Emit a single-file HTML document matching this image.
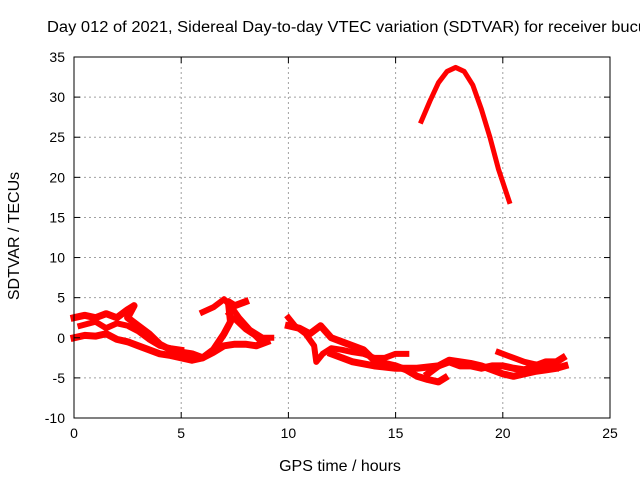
<!DOCTYPE html>
<html><head><meta charset="utf-8"><style>
body{margin:0;background:#fff;}
svg{display:block;font-family:"Liberation Sans",sans-serif;}
</style></head><body>
<svg id="chart" width="640" height="480" viewBox="0 0 640 480">
<text x="47" y="32" font-size="15.5" textLength="600" lengthAdjust="spacingAndGlyphs" fill="#000">Day 012 of 2021, Sidereal Day-to-day VTEC variation (SDTVAR) for receiver bucu</text>
<text transform="translate(19,236) rotate(-90)" text-anchor="middle" font-size="16">SDTVAR / TECUs</text>
<text x="340" y="471" text-anchor="middle" font-size="16">GPS time / hours</text>
<g id="grid"></g><g id="series"></g><g id="axes"></g>
</svg>
<script>
const xTicks=[0,5,10,15,20,25];
const yTicks=[-10,-5,0,5,10,15,20,25,30,35];
const arcSeries=[[16.2,27],[16.6,29.5],[17.0,31.8],[17.4,33.2],[17.8,33.7],[18.2,33.2],[18.6,31.5],[19.0,28.5],[19.4,25],[19.8,21],[20.3,17]];
const traceB1=[[0,2.5],[0.5,2.8],[1,2.5],[1.5,3],[2,2.5],[2.5,3.5],[2.8,4],[2.5,2.5],[3,1.5],[3.5,0.5],[4,-0.8],[4.5,-1.5],[5,-1.8],[5.5,-2],[6,-2.5],[6.5,-1.5],[7,0.5],[7.3,2],[7.2,4.5],[7.5,4],[8,4.5]];
const traceB2=[[0,0],[0.5,0.3],[1,0.2],[1.5,0.5],[2,-0.2],[2.5,-0.5],[3,-1],[3.5,-1.5],[4,-2],[4.5,-2.2],[5,-2.5],[5.5,-2.8],[6,-2.5],[6.5,-1.8],[7,-1],[7.5,-0.8],[8,-0.8],[8.5,-1],[9,-0.5]];
const traceB3=[[0.3,1.5],[1,2],[1.5,1.2],[2,1.8],[2.5,1.5],[3,0.8],[3.5,-0.2],[4,-1],[4.5,-1.3],[5,-1.5]];
const traceB4=[[6,3.2],[6.5,3.8],[7,4.8],[7.3,4],[7.7,2.5],[8.2,1],[8.8,0],[9.2,0]];
const traceB5=[[7.2,3],[7.6,2],[8,1],[8.4,0.3],[8.7,-0.5]];
const traceC1=[[10,2.5],[10.3,1.5],[10.8,0.5],[11.2,-1],[11.3,-3],[11.6,-2],[12,-1.3],[12.5,-1.5],[13,-1.8],[13.5,-2],[14,-2.5],[14.5,-2.5],[15,-2],[15.5,-2]];
const traceC2=[[10,1.5],[10.5,1.2],[11,0.5],[11.5,1.5],[12,0],[12.5,-0.5],[13,-1],[13.5,-1.5],[14,-2.8],[14.5,-3.2],[15,-3.5],[15.5,-4],[16,-4.8],[16.5,-5.2],[17,-5.5],[17.3,-5]];
const traceC3=[[12,-2],[13,-3],[14,-3.5],[15,-3.8],[16,-3.8],[17,-3.5],[17.5,-2.8],[18,-3],[18.5,-3.2],[19,-3.5],[19.5,-4],[20,-4.5],[20.5,-4.8],[21,-4.5],[21.5,-4.2],[22,-4],[22.5,-3.8],[22.9,-3.5]];
const traceC4=[[16.5,-4.5],[17,-3.5],[17.5,-3],[18,-3.5],[18.5,-3.5],[19,-3.8],[19.5,-3.5],[20,-3.5],[20.5,-3.8],[21,-4],[21.5,-3.5],[22,-3],[22.5,-3],[22.8,-2.5]];
const traceC5=[[19.8,-1.8],[20.5,-2.5],[21,-3],[21.5,-3.3],[22,-3.5],[22.5,-3.8]];

const NS="http://www.w3.org/2000/svg";
const L=74,R=610,T=57,B=418,xmin=0,xmax=25,ymin=-10,ymax=35;
const sx=v=>L+(v-xmin)/(xmax-xmin)*(R-L);
const sy=v=>B-(v-ymin)/(ymax-ymin)*(B-T);
function mk(tag,attrs,parent){const e=document.createElementNS(NS,tag);for(const k in attrs)e.setAttribute(k,attrs[k]);parent.appendChild(e);return e;}
const grid=document.getElementById('grid'),axes=document.getElementById('axes'),ser=document.getElementById('series');
xTicks.forEach(t=>{
  const x=sx(t);
  if(t>xmin&&t<xmax){const g=mk('line',{x1:x,x2:x,y1:T,y2:B,stroke:'#a0a0a0','stroke-dasharray':'2,3'},grid);
  
  }
  const tk=mk('line',{x1:x,x2:x,y1:B,y2:B-6,stroke:'#000'},axes);
  
  
  const tk2=mk('line',{x1:x,x2:x,y1:T,y2:T+6,stroke:'#000'},axes);
  
  
  const lb=mk('text',{x:x,y:B+20,'text-anchor':'middle','font-size':'14'},axes);lb.textContent=t;
  
  
});
yTicks.forEach(t=>{
  const y=sy(t);
  if(t>ymin&&t<ymax){const g=mk('line',{x1:L,x2:R,y1:y,y2:y,stroke:'#a0a0a0','stroke-dasharray':'2,3'},grid);
  
  }
  const tk=mk('line',{x1:L,x2:L+6,y1:y,y2:y,stroke:'#000'},axes);
  
  
  const tk2=mk('line',{x1:R,x2:R-6,y1:y,y2:y,stroke:'#000'},axes);
  
  
  const lb=mk('text',{x:L-9,y:y+5,'text-anchor':'end','font-size':'14'},axes);lb.textContent=t;
  
  
});
const fr=mk('rect',{x:L,y:T,width:R-L,height:B-T,fill:'none',stroke:'#000'},axes);


const all=[[arcSeries,'arc-trace',5],[traceB1,'trace-b1',7],[traceB2,'trace-b2',7],[traceB3,'trace-b3',6],[traceB4,'trace-b4',6],[traceB5,'trace-b5',5],[traceC1,'trace-c1',6],[traceC2,'trace-c2',7],[traceC3,'trace-c3',7],[traceC4,'trace-c4',7],[traceC5,'trace-c5',6]];
all.forEach(([d,n,w])=>{
  const pts=d.map(p=>sx(p[0])+','+sy(p[1])).join(' ');
  const pl=mk('polyline',{points:pts,fill:'none',stroke:'#ff0000','stroke-width':w,'stroke-linejoin':'round','stroke-linecap':'square'},ser);
  
  
});
</script>
</body></html>
